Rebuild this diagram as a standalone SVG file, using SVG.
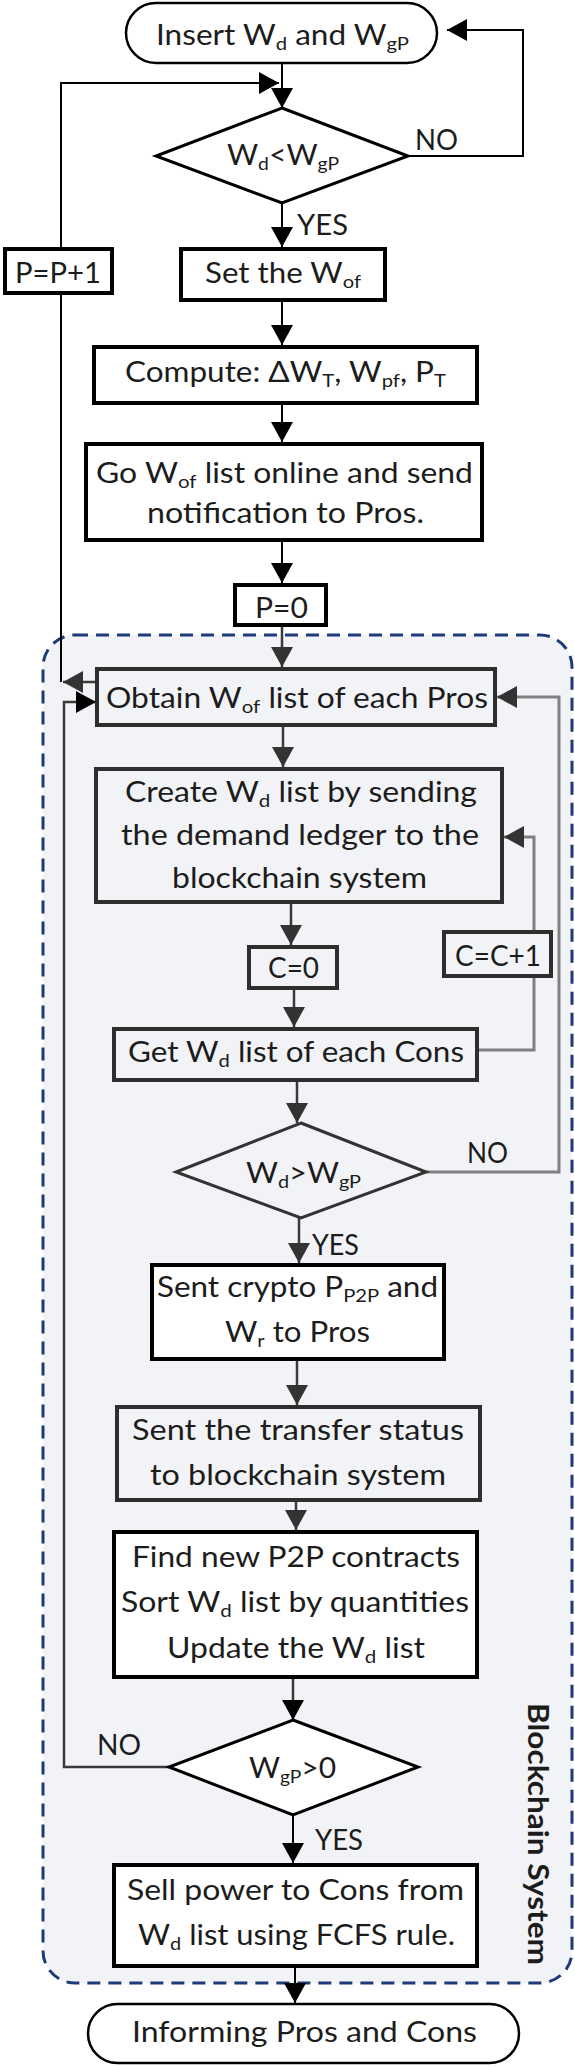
<svg xmlns="http://www.w3.org/2000/svg" width="575" height="2067" viewBox="0 0 575 2067">
<style>
 text { font-family: Lato, "Liberation Sans", sans-serif; font-size: 28px; fill: #1c1c1c; }
 .s { font-size: 18px; }
 .blk { fill: #fff; stroke: #000; stroke-width: 4; }
 .gry { fill: none; stroke: #2e2e2e; stroke-width: 4; }
 .term { fill: #fff; stroke: #000; stroke-width: 2.5; }
 .dia { fill: #fff; stroke: #000; stroke-width: 3; }
 .diag { fill: none; stroke: #333; stroke-width: 3; }
 .cb { fill: none; stroke: #000; stroke-width: 2; }
 .cg { fill: none; stroke: #3a3a3a; stroke-width: 2.5; }
 .cl { fill: none; stroke: #808080; stroke-width: 3; }
</style>
<defs>
 <marker id="ab" markerUnits="userSpaceOnUse" markerWidth="20" markerHeight="22" viewBox="0 0 20 22" refX="20" refY="11" orient="auto"><path d="M0,0 L20,11 L0,22 z" fill="#000"/></marker>
 <marker id="ag" markerUnits="userSpaceOnUse" markerWidth="20" markerHeight="22" viewBox="0 0 20 22" refX="20" refY="11" orient="auto"><path d="M0,0 L20,11 L0,22 z" fill="#333"/></marker>
</defs>
<rect width="575" height="2067" fill="#fff"/>

<g id="blockchain-system">
 <rect x="43" y="635" width="529" height="1348" rx="32" fill="#f2f3f6" stroke="#1e3a78" stroke-width="3" stroke-dasharray="13 8"/>
 <text transform="translate(528,1703) rotate(90)" font-weight="bold" font-size="32" textLength="262" lengthAdjust="spacingAndGlyphs">Blockchain System</text>
</g>

<g id="connectors">
 <path class="cb" d="M282,63 L282,108" marker-end="url(#ab)"/>
 <path class="cb" d="M61,247 L61,83 L279,83" marker-end="url(#ab)"/>
 <path class="cb" d="M408,156 L523,156 L523,30 L447,30" marker-end="url(#ab)"/>
 <path class="cb" d="M282,203 L282,247" marker-end="url(#ab)"/>
 <path class="cb" d="M282,300 L282,345" marker-end="url(#ab)"/>
 <path class="cb" d="M282,403 L282,442" marker-end="url(#ab)"/>
 <path class="cb" d="M282,540 L282,583" marker-end="url(#ab)"/>
 <path class="cg" d="M282,625 L282,667" marker-end="url(#ag)"/>
 <path class="cb" d="M61,293 L61,682"/>
 <path class="cg" d="M97,682 L63,682" marker-end="url(#ag)"/>
 <path class="cg" d="M283,725 L283,767" marker-end="url(#ag)"/>
 <path class="cg" d="M291,902 L291,945" marker-end="url(#ag)"/>
 <path class="cg" d="M294,988 L294,1027" marker-end="url(#ag)"/>
 <path class="cl" d="M477,1050 L534,1050 L534,976"/>
 <path class="cl" d="M534,930 L534,837 L504,837" marker-end="url(#ag)"/>
 <path class="cg" d="M297,1080 L297,1123" marker-end="url(#ag)"/>
 <path class="cl" d="M426,1172 L559,1172 L559,697 L497,697" marker-end="url(#ag)"/>
 <path class="cg" d="M299,1218 L299,1263" marker-end="url(#ag)"/>
 <path class="cg" d="M297,1359 L297,1405" marker-end="url(#ag)"/>
 <path class="cg" d="M296,1500 L296,1530" marker-end="url(#ag)"/>
 <path class="cg" d="M293,1677 L293,1720" marker-end="url(#ab)"/>
 <path class="cg" d="M169,1767 L64,1767 L64,702 L96,702" marker-end="url(#ab)"/>
 <path class="cb" d="M293,1815 L293,1863" marker-end="url(#ab)"/>
 <path class="cb" d="M295,1966 L295,2003" marker-end="url(#ab)"/>
</g>

<g id="labels">
 <text x="415" y="150" textLength="43" lengthAdjust="spacingAndGlyphs">NO</text>
 <text x="297" y="235" textLength="51" lengthAdjust="spacingAndGlyphs">YES</text>
 <text x="467" y="1163" textLength="41" lengthAdjust="spacingAndGlyphs">NO</text>
 <text x="312" y="1255" textLength="47" lengthAdjust="spacingAndGlyphs">YES</text>
 <text x="97" y="1755" textLength="44" lengthAdjust="spacingAndGlyphs">NO</text>
 <text x="315" y="1850" textLength="48" lengthAdjust="spacingAndGlyphs">YES</text>
</g>

<g id="start">
 <rect class="term" x="126" y="3" width="311" height="60" rx="30"/>
 <text x="156" y="45" textLength="253" lengthAdjust="spacingAndGlyphs">Insert W<tspan class="s" dy="5">d</tspan><tspan dy="-5"> and W</tspan><tspan class="s" dy="5">gP</tspan></text>
</g>

<g id="dec1">
 <polygon class="dia" points="282,108 408,156 282,203 156,156"/>
 <text x="227" y="165" textLength="112" lengthAdjust="spacingAndGlyphs">W<tspan class="s" dy="5">d</tspan><tspan dy="-5">&lt;W</tspan><tspan class="s" dy="5">gP</tspan></text>
</g>

<g id="pinc">
 <rect class="blk" x="5" y="249" width="107" height="44"/>
 <text x="15" y="283" textLength="86" lengthAdjust="spacingAndGlyphs">P=P+1</text>
</g>

<g id="setwof">
 <rect class="blk" x="181" y="249" width="204" height="51"/>
 <text x="205" y="283" textLength="156" lengthAdjust="spacingAndGlyphs">Set the W<tspan class="s" dy="5">of</tspan></text>
</g>

<g id="compute">
 <rect class="blk" x="94" y="347" width="383" height="56"/>
 <text x="125" y="382" textLength="321" lengthAdjust="spacingAndGlyphs">Compute: ΔW<tspan class="s" dy="5">T</tspan><tspan dy="-5">, W</tspan><tspan class="s" dy="5">pf</tspan><tspan dy="-5">, P</tspan><tspan class="s" dy="5">T</tspan></text>
</g>

<g id="golist">
 <rect class="blk" x="86" y="444" width="396" height="96"/>
 <text x="96" y="483" textLength="377" lengthAdjust="spacingAndGlyphs">Go W<tspan class="s" dy="5">of</tspan><tspan dy="-5"> list online and send</tspan></text>
 <text x="147" y="523" textLength="277" lengthAdjust="spacingAndGlyphs">notification to Pros.</text>
</g>

<g id="p0">
 <rect class="blk" x="235" y="585" width="91" height="40"/>
 <text x="255" y="618" textLength="53" lengthAdjust="spacingAndGlyphs">P=0</text>
</g>

<g id="obtain">
 <rect class="gry" x="97" y="669" width="398" height="56"/>
 <text x="106" y="708" textLength="382" lengthAdjust="spacingAndGlyphs">Obtain W<tspan class="s" dy="5">of</tspan><tspan dy="-5"> list of each Pros</tspan></text>
</g>

<g id="create">
 <rect class="gry" x="96" y="769" width="406" height="133"/>
 <text x="125" y="802" textLength="352" lengthAdjust="spacingAndGlyphs">Create W<tspan class="s" dy="5">d</tspan><tspan dy="-5"> list by sending</tspan></text>
 <text x="121" y="845" textLength="358" lengthAdjust="spacingAndGlyphs">the demand ledger to the</text>
 <text x="172" y="888" textLength="255" lengthAdjust="spacingAndGlyphs">blockchain system</text>
</g>

<g id="c0">
 <rect class="gry" x="249" y="947" width="88" height="41" stroke="#1a1a1a"/>
 <text x="268" y="978" textLength="51" lengthAdjust="spacingAndGlyphs">C=0</text>
</g>

<g id="cinc">
 <rect class="gry" x="444" y="932" width="107" height="44" stroke="#1a1a1a"/>
 <text x="455" y="966" textLength="86" lengthAdjust="spacingAndGlyphs">C=C+1</text>
</g>

<g id="getwd">
 <rect class="gry" x="114" y="1029" width="363" height="51"/>
 <text x="128" y="1062" textLength="336" lengthAdjust="spacingAndGlyphs">Get W<tspan class="s" dy="5">d</tspan><tspan dy="-5"> list of each Cons</tspan></text>
</g>

<g id="dec2">
 <polygon class="diag" points="301,1123 426,1172 301,1218 176,1172"/>
 <text x="246" y="1183" textLength="115" lengthAdjust="spacingAndGlyphs">W<tspan class="s" dy="5">d</tspan><tspan dy="-5">&gt;W</tspan><tspan class="s" dy="5">gP</tspan></text>
</g>

<g id="crypto">
 <rect class="blk" x="152" y="1265" width="292" height="94"/>
 <text x="157" y="1297" textLength="281" lengthAdjust="spacingAndGlyphs">Sent crypto P<tspan class="s" dy="5">P2P</tspan><tspan dy="-5"> and</tspan></text>
 <text x="225" y="1342" textLength="145" lengthAdjust="spacingAndGlyphs">W<tspan class="s" dy="5">r</tspan><tspan dy="-5"> to Pros</tspan></text>
</g>

<g id="transfer">
 <rect class="gry" x="117" y="1407" width="363" height="93"/>
 <text x="132" y="1440" textLength="332" lengthAdjust="spacingAndGlyphs">Sent the transfer status</text>
 <text x="150" y="1485" textLength="296" lengthAdjust="spacingAndGlyphs">to blockchain system</text>
</g>

<g id="find">
 <rect class="blk" x="114" y="1532" width="363" height="145"/>
 <text x="132" y="1567" textLength="328" lengthAdjust="spacingAndGlyphs">Find new P2P contracts</text>
 <text x="121" y="1612" textLength="348" lengthAdjust="spacingAndGlyphs">Sort W<tspan class="s" dy="5">d</tspan><tspan dy="-5"> list by quantities</tspan></text>
 <text x="167" y="1658" textLength="258" lengthAdjust="spacingAndGlyphs">Update the W<tspan class="s" dy="5">d</tspan><tspan dy="-5"> list</tspan></text>
</g>

<g id="dec3">
 <polygon class="dia" points="293,1720 418,1767 293,1815 169,1767"/>
 <text x="249" y="1778" textLength="87" lengthAdjust="spacingAndGlyphs">W<tspan class="s" dy="5">gP</tspan><tspan dy="-5">&gt;0</tspan></text>
</g>

<g id="sell">
 <rect class="blk" x="114" y="1865" width="363" height="101"/>
 <text x="127" y="1900" textLength="337" lengthAdjust="spacingAndGlyphs">Sell power to Cons from</text>
 <text x="138" y="1945" textLength="317" lengthAdjust="spacingAndGlyphs">W<tspan class="s" dy="5">d</tspan><tspan dy="-5"> list using FCFS rule.</tspan></text>
</g>

<g id="end">
 <rect class="term" x="88" y="2004" width="431" height="59" rx="29.5"/>
 <text x="132" y="2042" textLength="345" lengthAdjust="spacingAndGlyphs">Informing Pros and Cons</text>
</g>
</svg>
